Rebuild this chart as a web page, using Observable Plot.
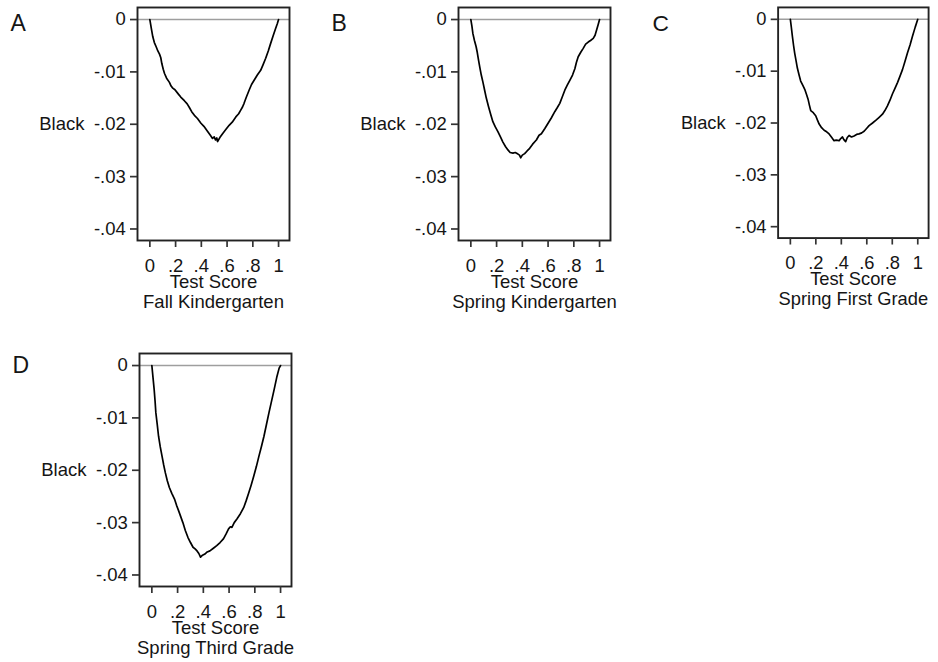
<!DOCTYPE html>
<html>
<head>
<meta charset="utf-8">
<script src="https://cdn.jsdelivr.net/npm/d3@7"></script>
<script src="https://cdn.jsdelivr.net/npm/@observablehq/plot@0.6"></script>
<style>
  html, body { margin: 0; padding: 0; background: #fff; }
  #chart { position: relative; width: 938px; height: 662px; overflow: hidden; }
  #chart .panel { position: absolute; }
</style>
</head>
<body>
<div id="chart"></div>
<script>
// Shared axis ticks and their printed labels
const xTicks = [0, 0.2, 0.4, 0.6, 0.8, 1];
const xTickLabels = ["0", ".2", ".4", ".6", ".8", "1"];
const yTicks = [0, -0.01, -0.02, -0.03, -0.04];
const yTickLabels = ["0", "-.01", "-.02", "-.03", "-.04"];

// Panel letters and survey waves
const letters = ["A", "B", "C", "D"];
const waves = ["Fall Kindergarten", "Spring Kindergarten", "Spring First Grade", "Spring Third Grade"];
const yLabel = "Black";
const xLabel = "Test Score";

// A: Fall Kindergarten
const scoreA = [0, 0.012, 0.023, 0.035, 0.049, 0.062, 0.075, 0.085, 0.093, 0.104, 0.114, 0.13, 0.152, 0.165, 0.178, 0.195, 0.217, 0.24, 0.268, 0.29, 0.307, 0.325, 0.346, 0.37, 0.397, 0.42, 0.449, 0.47, 0.487, 0.5, 0.51, 0.52, 0.526, 0.545, 0.565, 0.59, 0.616, 0.64, 0.668, 0.69, 0.706, 0.72, 0.732, 0.75, 0.771, 0.79, 0.81, 0.835, 0.861, 0.88, 0.9, 0.92, 0.938, 0.958, 0.977, 0.99, 1];
const blackA = [0, -0.0018, -0.0033, -0.0044, -0.0052, -0.0060, -0.0066, -0.0073, -0.0084, -0.0095, -0.0103, -0.0112, -0.0120, -0.0127, -0.0131, -0.0134, -0.0141, -0.0148, -0.0155, -0.0161, -0.0168, -0.0176, -0.0183, -0.0189, -0.0198, -0.0204, -0.0214, -0.0221, -0.0227, -0.0224, -0.0230, -0.0226, -0.0233, -0.0225, -0.0218, -0.0210, -0.0202, -0.0196, -0.0186, -0.0180, -0.0173, -0.0167, -0.0160, -0.0148, -0.0135, -0.0124, -0.0116, -0.0106, -0.0097, -0.0086, -0.0074, -0.0060, -0.0046, -0.0031, -0.0017, -0.0008, 0];

// B: Spring Kindergarten
const scoreB = [0, 0.008, 0.016, 0.028, 0.041, 0.05, 0.06, 0.07, 0.081, 0.095, 0.107, 0.12, 0.138, 0.155, 0.171, 0.19, 0.21, 0.23, 0.249, 0.27, 0.288, 0.305, 0.327, 0.345, 0.366, 0.378, 0.387, 0.4, 0.418, 0.437, 0.457, 0.48, 0.509, 0.53, 0.548, 0.575, 0.6, 0.625, 0.652, 0.672, 0.691, 0.71, 0.73, 0.75, 0.769, 0.79, 0.808, 0.82, 0.834, 0.855, 0.873, 0.892, 0.912, 0.93, 0.951, 0.965, 0.977, 0.99, 1];
const blackB = [0, -0.0012, -0.0027, -0.0040, -0.0052, -0.0063, -0.0078, -0.0092, -0.0106, -0.0121, -0.0135, -0.0150, -0.0167, -0.0182, -0.0195, -0.0205, -0.0214, -0.0224, -0.0234, -0.0243, -0.0249, -0.0254, -0.0255, -0.0254, -0.0257, -0.0259, -0.0264, -0.0259, -0.0256, -0.0251, -0.0246, -0.0238, -0.0230, -0.0221, -0.0218, -0.0208, -0.0198, -0.0188, -0.0176, -0.0168, -0.0160, -0.0148, -0.0135, -0.0125, -0.0116, -0.0106, -0.0094, -0.0082, -0.0071, -0.0062, -0.0055, -0.0047, -0.0043, -0.0040, -0.0036, -0.0030, -0.0020, -0.0009, 0];

// C: Spring First Grade
const scoreC = [0, 0.008, 0.016, 0.025, 0.034, 0.045, 0.055, 0.068, 0.081, 0.097, 0.113, 0.127, 0.139, 0.15, 0.16, 0.18, 0.199, 0.212, 0.226, 0.245, 0.265, 0.285, 0.304, 0.325, 0.343, 0.36, 0.383, 0.395, 0.409, 0.42, 0.434, 0.447, 0.461, 0.48, 0.5, 0.52, 0.539, 0.56, 0.579, 0.6, 0.618, 0.645, 0.67, 0.697, 0.723, 0.742, 0.762, 0.782, 0.801, 0.821, 0.841, 0.86, 0.88, 0.9, 0.919, 0.94, 0.958, 0.98, 1];
const blackC = [0, -0.0016, -0.0033, -0.0050, -0.0065, -0.0080, -0.0094, -0.0107, -0.0119, -0.0127, -0.0135, -0.0145, -0.0154, -0.0166, -0.0176, -0.0180, -0.0186, -0.0194, -0.0202, -0.0209, -0.0214, -0.0217, -0.0221, -0.0228, -0.0234, -0.0233, -0.0234, -0.0230, -0.0227, -0.0232, -0.0236, -0.0228, -0.0224, -0.0227, -0.0225, -0.0222, -0.0221, -0.0219, -0.0216, -0.0210, -0.0205, -0.0200, -0.0195, -0.0189, -0.0183, -0.0176, -0.0167, -0.0156, -0.0144, -0.0133, -0.0122, -0.0110, -0.0097, -0.0081, -0.0065, -0.0049, -0.0033, -0.0015, 0];

// D: Spring Third Grade
const scoreD = [0, 0.009, 0.018, 0.025, 0.031, 0.042, 0.052, 0.065, 0.079, 0.092, 0.105, 0.12, 0.136, 0.155, 0.176, 0.192, 0.209, 0.225, 0.241, 0.26, 0.28, 0.3, 0.32, 0.336, 0.351, 0.365, 0.378, 0.39, 0.412, 0.43, 0.451, 0.478, 0.504, 0.53, 0.556, 0.576, 0.596, 0.61, 0.622, 0.64, 0.661, 0.688, 0.714, 0.733, 0.753, 0.772, 0.792, 0.812, 0.832, 0.851, 0.871, 0.89, 0.91, 0.93, 0.95, 0.97, 0.989, 1];
const blackD = [0, -0.0023, -0.0046, -0.0068, -0.0090, -0.0113, -0.0135, -0.0155, -0.0173, -0.0190, -0.0205, -0.0220, -0.0233, -0.0244, -0.0255, -0.0267, -0.0278, -0.0289, -0.0300, -0.0315, -0.0328, -0.0338, -0.0347, -0.0350, -0.0354, -0.0359, -0.0366, -0.0363, -0.0360, -0.0356, -0.0354, -0.0349, -0.0344, -0.0338, -0.0331, -0.0322, -0.0312, -0.0308, -0.0309, -0.0300, -0.0293, -0.0283, -0.0271, -0.0258, -0.0243, -0.0228, -0.0211, -0.0193, -0.0173, -0.0155, -0.0135, -0.0113, -0.0090, -0.0068, -0.0046, -0.0023, -0.0005, 0];

const series = [
  {score: scoreA, black: blackA},
  {score: scoreB, black: blackB},
  {score: scoreC, black: blackC},
  {score: scoreD, black: blackD}
];

// Panel placement on the page (top-left corner of each plot's SVG)
const placement = [
  {left: 0, top: 0, letterDy: 7},
  {left: 321, top: 0, letterDy: 7},
  {left: 642, top: 0, letterDy: 7},
  {left: 2, top: 346, letterDy: 3}
];

const FONT = '"Liberation Sans", Arial, Helvetica, sans-serif';
const INK = "#151515";
const chart = document.getElementById("chart");

series.forEach((s, i) => {
  const data = s.score.map((x, j) => ({x, y: s.black[j]}));
  const plot = Plot.plot({
    width: 299,
    height: 320,
    marginLeft: 137,
    marginRight: 10,
    marginTop: 7,
    marginBottom: 80,
    x: {domain: [-0.096, 1.085]},
    y: {domain: [-0.0422, 0.0023]},
    style: {fontFamily: FONT, fontSize: "18.5px", color: INK, background: "transparent", overflow: "visible"},
    marks: [
      Plot.ruleY([0], {stroke: "#9e9e9e", strokeWidth: 1.5}),
      Plot.line(data, {x: "x", y: "y", stroke: "#000", strokeWidth: 1.7}),
      Plot.frame({stroke: "#222", strokeWidth: 1.9}),
      Plot.axisX({
        ticks: xTicks,
        tickFormat: d => xTickLabels[xTicks.indexOf(d)],
        tickSize: 7,
        tickPadding: 11.5,
        stroke: "#333",
        strokeWidth: 1.7,
        label: null
      }),
      Plot.axisY({
        ticks: yTicks,
        tickFormat: d => yTickLabels[yTicks.indexOf(d)],
        tickSize: 7,
        tickPadding: 4.7,
        stroke: "#333",
        strokeWidth: 1.7,
        label: null
      }),
      Plot.text([yLabel], {frameAnchor: "left", textAnchor: "end", dx: -53}),
      Plot.text([`${xLabel}\n${waves[i]}`], {frameAnchor: "bottom", lineAnchor: "top", dy: 34, lineHeight: 1.05}),
      Plot.text([letters[i]], {frameAnchor: "top-left", textAnchor: "start", lineAnchor: "top", dx: -127, dy: placement[i].letterDy, fontSize: 23})
    ]
  });
  const holder = document.createElement("div");
  holder.className = "panel";
  holder.style.left = placement[i].left + "px";
  holder.style.top = placement[i].top + "px";
  holder.appendChild(plot);
  chart.appendChild(holder);
});
</script>
</body>
</html>
